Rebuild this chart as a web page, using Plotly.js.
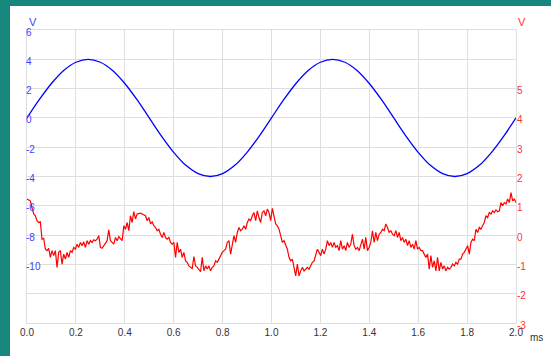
<!DOCTYPE html>
<html>
<head>
<meta charset="utf-8">
<script src="https://cdn.plot.ly/plotly-3.0.1.min.js"></script>
<style>
  html, body { margin: 0; padding: 0; width: 551px; height: 356px; background: #17877d; overflow: hidden; }
  #chart { position: absolute; left: 10px; top: 6px; width: 541px; height: 350px; background: #ffffff; }
</style>
</head>
<body>
<div id="chart"></div>
<script>
// Blue trace (left axis, V), sampled every 0.05 ms
var blueStep = 0.05;
var blueValues = [
  0.00, 1.24, 2.35, 3.24, 3.80, 4.00, 3.80, 3.24, 2.35, 1.24,
  0.00, -1.24, -2.35, -3.24, -3.80, -4.00, -3.80, -3.24, -2.35, -1.24,
  0.00, 1.24, 2.35, 3.24, 3.80, 4.00, 3.80, 3.24, 2.35, 1.24,
  0.00, -1.24, -2.35, -3.24, -3.80, -4.00, -3.80, -3.24, -2.35, -1.24,
  0.00
];

// Red trace (right axis, V), uniform sampling over 0..2 ms
var redDuration = 2.0;
var redValues = [
  1.23, 1.20, 1.17, 0.94, 0.72, 0.66, 0.49, 0.43, 0.45, -0.14,
  -0.11, -0.48, -0.53, -0.45, -0.76, -0.53, -0.70, -0.53, -1.10, -0.59,
  -0.53, -0.99, -0.65, -0.82, -0.59, -0.76, -0.53, -0.59, -0.42, -0.48,
  -0.31, -0.42, -0.25, -0.36, -0.23, -0.42, -0.19, -0.31, -0.19, -0.25,
  -0.16, -0.19, -0.14, -0.02, -0.42, -0.45, -0.36, -0.31, -0.19, 0.18,
  -0.19, -0.25, -0.31, -0.08, -0.19, -0.05, -0.14, -0.19, 0.32, 0.20,
  0.43, 0.15, 0.66, 0.43, 0.80, 0.55, 0.72, 0.74, 0.75, 0.72,
  0.68, 0.66, 0.49, 0.60, 0.38, 0.45, 0.32, 0.26, 0.15, 0.20,
  0.03, -0.08, 0.09, -0.08, -0.14, -0.08, -0.25, -0.31, -0.25, -0.76,
  -0.25, -0.59, -0.48, -0.76, -0.59, -0.88, -0.93, -1.05, -1.10, -1.14,
  -0.73, -1.05, -1.10, -1.16,
  -1.25, -0.76, -1.22, -1.05, -1.16, -1.05, -1.22, -1.10, -1.05, -0.88,
  -0.93, -0.82, -0.70, -0.59, -0.53, -0.48, -0.25, -0.19, -0.65, -0.25,
  -0.02, -0.25, 0.09, 0.26, 0.15, 0.20, 0.32, 0.20, 0.43, 0.55,
  0.49, 0.66, 0.77, 0.49, 0.83, 0.60, 0.43, 0.77, 0.83, 0.66,
  0.89, 0.77, 0.49, 0.91, 0.66, 0.38, 0.32, 0.20, -0.02, -0.25,
  -0.19, -0.36, -0.48, -0.76, -0.88, -0.82, -1.10, -1.39, -0.99, -1.39,
  -1.22, -1.10, -1.22, -1.16, -1.10, -1.16, -1.05, -0.93, -0.88, -0.70,
  -0.48, -0.59, -0.70, -0.48, -0.65, -0.48, -0.19, -0.36, -0.25, -0.42,
  -0.25, -0.42, -0.36, -0.53, -0.19, -0.48, -0.36, -0.53, -0.25, -0.42,
  -0.31, 0.03, -0.36, -0.48, -0.42, -0.53,
  -0.36, -0.14, -0.48, -0.08, -0.53, -0.42, -0.25, 0.15, -0.25, 0.09,
  -0.19, 0.03, 0.09, 0.20, 0.15, 0.38, 0.26, 0.09, 0.15, 0.03,
  -0.02, 0.15, -0.08, 0.09, -0.19, -0.08, -0.25, -0.14, -0.36, -0.19,
  -0.42, -0.31, -0.48, -0.19, -0.48, -0.42, -0.53, -0.53, -0.65, -0.76,
  -0.65, -1.16, -0.70, -1.10, -0.88, -1.22, -0.76, -1.22, -0.93, -1.16,
  -1.05, -1.22, -1.10, -1.16, -1.10, -0.99, -1.05, -0.93, -0.99, -0.82,
  -0.82, -0.65, -0.59, -0.48, -0.36, -0.65, -0.25, -0.14, -0.19, 0.20,
  0.09, 0.26, 0.20, 0.32, 0.43, 0.66, 0.60, 0.77, 0.72, 0.83,
  0.77, 0.86, 0.80, 0.83, 1.11, 1.00, 1.11, 1.06, 1.23, 1.11,
  1.45, 1.17, 1.23, 1.11
];

// Axis ticks
var xRange = [0, 2];
var xTickVals = [0, 0.2, 0.4, 0.6, 0.8, 1.0, 1.2, 1.4, 1.6, 1.8, 2.0];
var xTickText = ['0.0', '0.2', '0.4', '0.6', '0.8', '1.0', '1.2', '1.4', '1.6', '1.8', '2.0'];
var leftRange = [-14, 6];
var leftGridVals = [-14, -12, -10, -8, -6, -4, -2, 0, 2, 4, 6];
var leftLabelVals = [-10, -8, -6, -4, -2, 0, 2, 4, 6];
var leftLabelText = ['-10', '-8', '-6', '-4', '-2', '0', '2', '4', '6'];
var rightRange = [-3, 7];
var rightTickVals = [-3, -2, -1, 0, 1, 2, 3, 4, 5, 6, 7];
var rightTickText = ['-3', '-2', '-1', '0', '1', '2', '3', '4', '5', '', ''];

var blueX = blueValues.map(function (v, i) { return i * blueStep; });
var redX = redValues.map(function (v, i) { return i * redDuration / (redValues.length - 1); });

var font = 'Liberation Sans, Arial, sans-serif';
var grid = '#dedede';
var blueText = '#4040ff';
var redText = '#ff3030';

var traces = [
  {
    x: blueX, y: blueValues, type: 'scatter', mode: 'lines',
    line: { color: '#0000ff', width: 1.3, shape: 'spline', smoothing: 1 },
    xaxis: 'x', yaxis: 'y', hoverinfo: 'skip'
  },
  {
    x: redX, y: redValues, type: 'scatter', mode: 'lines',
    line: { color: '#ff0000', width: 1.2 },
    xaxis: 'x', yaxis: 'y2', hoverinfo: 'skip'
  },
  // empty helper trace so the label-only left axis gets drawn
  { x: [], y: [], type: 'scatter', mode: 'lines', xaxis: 'x', yaxis: 'y3', hoverinfo: 'skip' }
];

var layout = {
  width: 541, height: 350,
  margin: { l: 17, r: 35, t: 24, b: 33, pad: 0 },
  paper_bgcolor: '#ffffff', plot_bgcolor: '#ffffff',
  showlegend: false,
  font: { family: font, size: 10, color: '#333333' },
  xaxis: {
    range: xRange, tickvals: xTickVals, ticktext: xTickText,
    showgrid: true, gridcolor: grid, gridwidth: 1,
    showline: true, linecolor: grid, linewidth: 1, mirror: true,
    zeroline: false, ticks: '', fixedrange: true,
    tickfont: { family: font, size: 10, color: '#333333' }
  },
  yaxis: {
    range: leftRange, tickvals: leftGridVals, showticklabels: false,
    showgrid: true, gridcolor: grid, gridwidth: 1,
    showline: true, linecolor: grid, linewidth: 1, mirror: true,
    zeroline: false, ticks: '', fixedrange: true
  },
  yaxis2: {
    range: rightRange, tickvals: rightTickVals, ticktext: rightTickText,
    overlaying: 'y', side: 'right', showgrid: false,
    showline: false, zeroline: false, ticks: '', fixedrange: true,
    ticklabelshift: 2,
    tickfont: { family: font, size: 10, color: redText }
  },
  yaxis3: {
    range: leftRange, tickvals: leftLabelVals, ticktext: leftLabelText,
    overlaying: 'y', anchor: 'free', position: 0, side: 'right',
    showgrid: false, showline: false, zeroline: false, ticks: '', fixedrange: true,
    ticklabelshift: 2, ticklabelstandoff: -2,
    tickfont: { family: font, size: 10, color: blueText }
  },
  annotations: [
    { xref: 'paper', yref: 'paper', x: 0, y: 1, xanchor: 'left', yanchor: 'middle', yshift: 8,
      text: 'V', showarrow: false, font: { family: font, size: 11, color: blueText } },
    { xref: 'paper', yref: 'paper', x: 1, y: 1, xanchor: 'left', yanchor: 'middle', yshift: 8,
      text: 'V', showarrow: false, font: { family: font, size: 11, color: redText } },
    { xref: 'paper', yref: 'paper', x: 1, y: 0, xanchor: 'left', yanchor: 'middle', xshift: 12, yshift: -14,
      text: 'ms', showarrow: false, font: { family: font, size: 10, color: '#333333' } }
  ]
};

Plotly.newPlot('chart', traces, layout, { staticPlot: true, displayModeBar: false });
</script>
</body>
</html>
